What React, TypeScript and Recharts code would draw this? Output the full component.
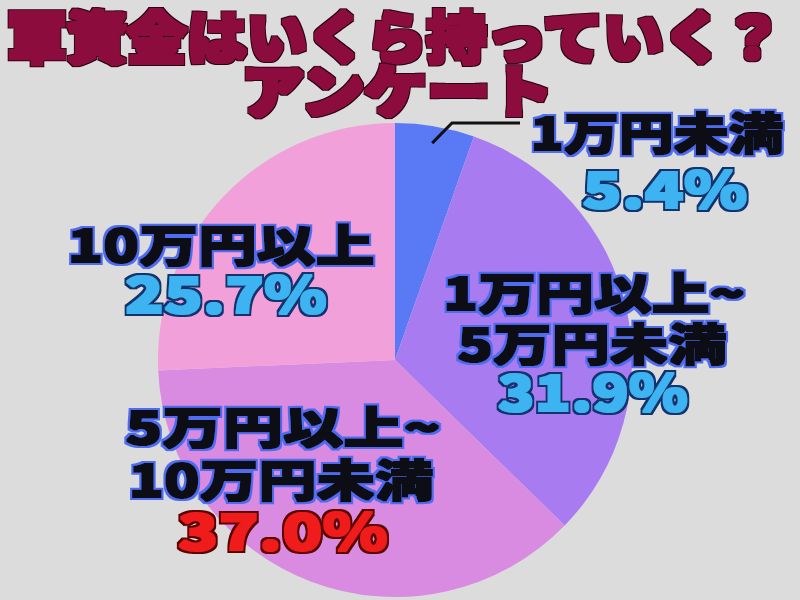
import React from "react";
import { PieChart, Pie, Cell } from "recharts";

const titleLines = ["軍資金はいくら持っていく？", "アンケート"];
const categories = ["1万円未満", "1万円以上~\n5万円未満", "5万円以上~\n10万円未満", "10万円以上"];
const values = [5.4, 31.9, 37.0, 25.7];
const colors = ["#5a7af5", "#a87cf0", "#d98ae1", "#f1a0d9"];
const percentColors = ["#3db3f2", "#3db3f2", "#f01c1c", "#3db3f2"];
const percentStrokes = ["#12306e", "#12306e", "#5a0000", "#12306e"];

// label layout: offsets relative to pie center, and text widths
const labelLayout = [
  { lines: [{ dx: 262, dy: -229, w: 253 }], pct: { dx: 270, dy: -174, w: 165 } },
  { lines: [{ dx: 199, dy: -69, w: 302 }, { dx: 197, dy: -18, w: 269 }], pct: { dx: 198, dy: 29, w: 190 } },
  { lines: [{ dx: -112, dy: 65, w: 315 }, { dx: -114, dy: 118, w: 305 }], pct: { dx: -112, dy: 168, w: 210 } },
  { lines: [{ dx: -174, dy: -117, w: 307 }], pct: { dx: -169, dy: -69, w: 202 } },
];

const data = categories.map((name, i) => ({ name, value: values[i] }));

const FONT = '"Noto Sans CJK JP", "Noto Sans", sans-serif';
const RAD = Math.PI / 180;

const OutlineFilter = ({ id, color, thick, outline }: { id: string; color: string; thick: number; outline: number }) => (
  <filter id={id} x="-10%" y="-30%" width="120%" height="160%">
    <feMorphology in="SourceGraphic" operator="dilate" radius={thick} result="thick" />
    <feMorphology in="SourceAlpha" operator="dilate" radius={thick + outline} result="outA" />
    <feFlood floodColor={color} result="flood" />
    <feComposite in="flood" in2="outA" operator="in" result="outline" />
    <feMerge>
      <feMergeNode in="outline" />
      <feMergeNode in="thick" />
    </feMerge>
  </filter>
);

type STProps = {
  x: number;
  y: number;
  w: number;
  size: number;
  fill: string;
  filter: string;
  children: string;
};

const FatText = ({ x, y, w, size, fill, filter, children }: STProps) => (
  <text
    x={x}
    y={y}
    textAnchor="middle"
    dominantBaseline="central"
    textLength={w}
    lengthAdjust="spacingAndGlyphs"
    fontFamily={FONT}
    fontWeight={900}
    fontSize={size}
    fill={fill}
    filter={`url(#${filter})`}
  >
    {children}
  </text>
);

const renderLabel = (props: any) => {
  const { cx, cy, midAngle, outerRadius, index } = props;
  const layout = labelLayout[index];
  const names = categories[index].split("\n");
  const pct = `${values[index].toFixed(1)}%`;
  let leader = null;
  if (index === 0) {
    const r = outerRadius - 17;
    const sx = cx + r * Math.cos(-midAngle * RAD);
    const sy = cy + r * Math.sin(-midAngle * RAD);
    leader = (
      <polyline
        points={`${sx},${sy} ${cx + 57},${cy - 237} ${cx + 125},${cy - 237}`}
        fill="none"
        stroke="#111"
        strokeWidth={3}
      />
    );
  }
  return (
    <g key={`lbl-${index}`}>
      <defs>
        <OutlineFilter id={`nameF${index}`} color="#4f6cf0" thick={1.2} outline={1.6} />
        <OutlineFilter id={`pctF${index}`} color={percentStrokes[index]} thick={1} outline={1.5} />
      </defs>
      {leader}
      {names.map((t, j) => (
        <FatText
          key={j}
          x={cx + layout.lines[j].dx}
          y={cy + layout.lines[j].dy}
          w={layout.lines[j].w}
          size={44}
          fill="#0d0d14"
          filter={`nameF${index}`}
        >
          {t}
        </FatText>
      ))}
      <FatText
        x={cx + layout.pct.dx}
        y={cy + layout.pct.dy}
        w={layout.pct.w}
        size={50}
        fill={percentColors[index]}
        filter={`pctF${index}`}
      >
        {pct}
      </FatText>
    </g>
  );
};

export default function App() {
  return (
    <div style={{ position: "absolute", left: 0, top: 0, width: 800, height: 600, background: "#dcdcdc", overflow: "hidden" }}>
      <PieChart width={800} height={600} margin={{ top: 0, right: 0, bottom: 0, left: 0 }}>
        <Pie
          data={data}
          dataKey="value"
          nameKey="name"
          cx={395}
          cy={360}
          outerRadius={237}
          startAngle={90}
          endAngle={-270}
          stroke="none"
          isAnimationActive={false}
          label={renderLabel}
          labelLine={false}
        >
          {data.map((d, i) => (
            <Cell key={d.name} fill={colors[i]} />
          ))}
        </Pie>
      </PieChart>
      <svg width={800} height={600} style={{ position: "absolute", left: 0, top: 0, pointerEvents: "none" }}>
        <defs>
          <OutlineFilter id="titleF" color="#2a0612" thick={1.5} outline={1.6} />
        </defs>
        <FatText x={395} y={33} w={776} size={56} fill="#8c0f3e" filter="titleF">
          {titleLines[0]}
        </FatText>
        <FatText x={397} y={87} w={312} size={56} fill="#8c0f3e" filter="titleF">
          {titleLines[1]}
        </FatText>
      </svg>
    </div>
  );
}
